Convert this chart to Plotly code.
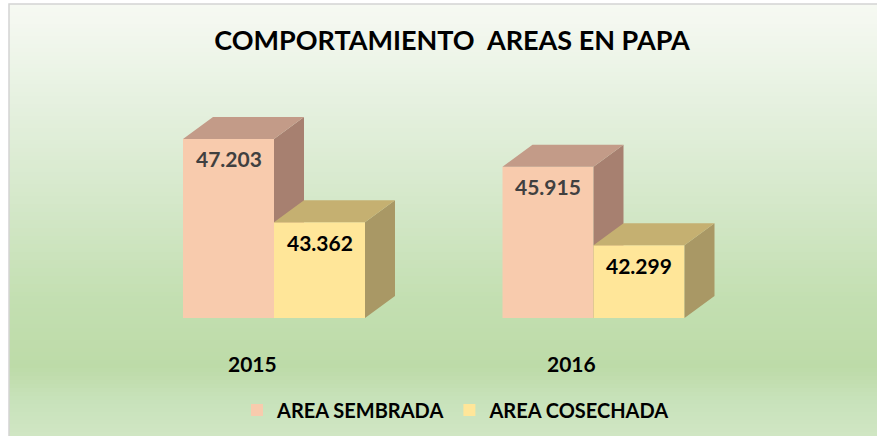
import plotly.graph_objects as go

# ---------------- data ----------------
categories = ["2015", "2016"]
series_names = ["AREA SEMBRADA", "AREA COSECHADA"]
area_sembrada = [47203, 45915]
area_cosechada = [43362, 42299]
title_text = "COMPORTAMIENTO  AREAS EN PAPA"

# ---------------- style / geometry ----------------
W, H = 877, 436
PLOT_BOTTOM = 318          # px of plot-area bottom (floor of bars)
MB = H - PLOT_BOTTOM
PPU_X = 319.5              # px per category unit
CENTER0_PX = 274.0
X0 = -CENTER0_PX / PPU_X
X1 = X0 + W / PPU_X
Y_MIN = 38950.0
PPU_Y = 0.0217             # px per value unit
Y_MAX = Y_MIN + PLOT_BOTTOM / PPU_Y
BAR_W = 91 / PPU_X
DX = 30 / PPU_X
DY = 22 / PPU_Y

FONT = "Lato"
colors = {
    "AREA SEMBRADA": dict(front="#F8CBAD", top="#C39B88", side="#A78070", label="#404040"),
    "AREA COSECHADA": dict(front="#FFE699", top="#C5B071", side="#A99865", label="#000000"),
}

xs = list(range(len(categories)))


def fmt(v):
    return f"{v:,.0f}".replace(",", ".")


fig = go.Figure()

series = [("AREA SEMBRADA", area_sembrada, -BAR_W, "x", "y"),
          ("AREA COSECHADA", area_cosechada, 0.0, "x2", "y2")]

annotations = []
for name, vals, off, xa, ya in series:
    c = colors[name]
    fig.add_trace(go.Bar(
        x=xs, y=vals, name=name, width=BAR_W, offset=off,
        marker=dict(color=c["front"], line=dict(width=0)),
        xaxis=xa, yaxis=ya, hoverinfo="y",
    ))
    top_x, top_y, side_x, side_y = [], [], [], []
    for xi, v in zip(xs, vals):
        a = xi + off
        b = a + BAR_W
        top_x += [a, b, b + DX, a + DX, a, None]
        top_y += [v, v, v + DY, v + DY, v, None]
        side_x += [b, b + DX, b + DX, b, b, None]
        side_y += [Y_MIN, Y_MIN + DY, v + DY, v, Y_MIN, None]
        annotations.append(dict(
            x=a + BAR_W / 2, y=v, xref=xa, yref=ya, text=fmt(v), showarrow=False,
            yshift=-20, yanchor="middle",
            font=dict(family=FONT, size=21, color=c["label"], weight="bold"),
        ))
    fig.add_trace(go.Scatter(x=side_x, y=side_y, mode="lines", fill="toself",
                             fillcolor=c["side"], line=dict(width=0),
                             xaxis=xa, yaxis=ya, hoverinfo="skip", showlegend=False))
    fig.add_trace(go.Scatter(x=top_x, y=top_y, mode="lines", fill="toself",
                             fillcolor=c["top"], line=dict(width=0),
                             xaxis=xa, yaxis=ya, hoverinfo="skip", showlegend=False))

# category labels
for xi, cat in zip(xs, categories):
    annotations.append(dict(
        x=xi, y=-(363 - PLOT_BOTTOM) / PLOT_BOTTOM, xref="x", yref="paper",
        text=cat, showarrow=False, xshift=-22, yanchor="middle",
        font=dict(family=FONT, size=21, color="#000000", weight="bold"),
    ))

# background gradient
stops = [(4, (246, 249, 242)), (20, (244, 248, 240)), (100, (230, 241, 224)),
         (200, (213, 232, 202)), (300, (195, 223, 177)), (367, (189, 219, 168)),
         (400, (200, 226, 186)), (436, (208, 230, 196))]


def color_at(py):
    for (p0, c0), (p1, c1) in zip(stops, stops[1:]):
        if p0 <= py <= p1:
            t = (py - p0) / (p1 - p0)
            return "rgb(%d,%d,%d)" % tuple(round(c0[i] + (c1[i] - c0[i]) * t) for i in range(3))
    return "rgb(%d,%d,%d)" % stops[-1][1]


def py2paper(py):
    return (PLOT_BOTTOM - py) / PLOT_BOTTOM


shapes = []
step = 4
py = 4
while py < H:
    shapes.append(dict(type="rect", xref="paper", yref="paper",
                       x0=9 / W, x1=1.01, y0=py2paper(min(py + step + 0.5, H + 2)), y1=py2paper(py),
                       fillcolor=color_at(py + step / 2), line=dict(width=0), layer="below"))
    py += step
shapes.append(dict(type="rect", xref="paper", yref="paper",
                   x0=9 / W, x1=1.05, y0=py2paper(H + 10), y1=py2paper(4),
                   fillcolor="rgba(0,0,0,0)", line=dict(width=1.5, color="#D4D4D4"), layer="below"))

axis_common = dict(showgrid=False, zeroline=False, showticklabels=False, ticks="",
                   showline=False, fixedrange=True)

fig.update_layout(
    width=W, height=H,
    margin=dict(l=0, r=0, t=0, b=MB),
    paper_bgcolor="white", plot_bgcolor="rgba(0,0,0,0)",
    separators=",.",
    barmode="overlay",
    showlegend=True,
    xaxis=dict(range=[X0, X1], domain=[0, 1], **axis_common),
    yaxis=dict(range=[Y_MIN, Y_MAX], domain=[0, 1], **axis_common),
    xaxis2=dict(range=[X0, X1], overlaying="x", **axis_common),
    yaxis2=dict(range=[Y_MIN, Y_MAX], overlaying="y", **axis_common),
    title=dict(text=title_text, x=452 / W, xanchor="center", y=1 - 41 / H, yanchor="middle",
               font=dict(family=FONT, size=27, color="#000000", weight="bold")),
    legend=dict(orientation="h", x=456 / W, xanchor="center",
                y=py2paper(410), yanchor="middle", bgcolor="rgba(0,0,0,0)",
                font=dict(family=FONT, size=20, color="#000000", weight="bold"),
                itemsizing="constant", traceorder="normal"),
    annotations=annotations,
    shapes=shapes,
)

fig.write_html("out.html", config={"displayModeBar": False},
               post_script="document.body.style.margin='0';")
